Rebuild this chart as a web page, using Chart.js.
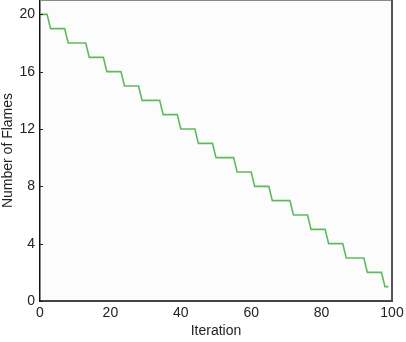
<!DOCTYPE html>
<html>
<head>
<meta charset="utf-8">
<script src="https://cdn.jsdelivr.net/npm/chart.js@4.4.1/dist/chart.umd.min.js"></script>
<style>
html,body{margin:0;padding:0;background:#fff}
#wrap{width:406px;height:342px}
</style>
</head>
<body>
<div id="wrap"><canvas id="flameChart" width="406" height="342"></canvas></div>
<script>
// ===== DATA =====
const iterations = [
0,1,2,3,4,5,6,7,8,9,10,11,12,13,14,15,16,17,18,19,
20,21,22,23,24,25,26,27,28,29,30,31,32,33,34,35,36,37,38,39,
40,41,42,43,44,45,46,47,48,49,50,51,52,53,54,55,56,57,58,59,
60,61,62,63,64,65,66,67,68,69,70,71,72,73,74,75,76,77,78,79,
80,81,82,83,84,85,86,87,88,89,90,91,92,93,94,95,96,97,98,99
]
const flames = [
20,20,20,19,19,19,19,19,18,18,18,18,18,18,17,17,17,17,17,16,
16,16,16,16,15,15,15,15,15,14,14,14,14,14,14,13,13,13,13,13,
12,12,12,12,12,11,11,11,11,11,10,10,10,10,10,10,9,9,9,9,
9,8,8,8,8,8,7,7,7,7,7,7,6,6,6,6,6,5,5,5,
5,5,4,4,4,4,4,3,3,3,3,3,3,2,2,2,2,2,1,1
]
const xTicks = [0,20,40,60,80,100]
const yTicks = [0,4,8,12,16,20]

const font = {family:"'Liberation Sans', Arial, sans-serif", size:14}

// ===== FRAME + INNER TICKS =====
const framePlugin = {
id:"frame",
afterDraw(chart){
const ctx = chart.ctx
const a = chart.chartArea
const y = chart.scales.y
ctx.save()
// top border
ctx.strokeStyle = "#8a8a8a"
ctx.lineWidth = 1
ctx.beginPath()
ctx.moveTo(a.left, a.top + 0.5)
ctx.lineTo(a.right, a.top + 0.5)
ctx.stroke()
// right border
ctx.strokeStyle = "#555"
ctx.lineWidth = 2
ctx.beginPath()
ctx.moveTo(a.right, a.top)
ctx.lineTo(a.right, a.bottom)
ctx.stroke()
// inner y ticks
ctx.strokeStyle = "#222"
ctx.lineWidth = 1
yTicks.forEach(v => {
const py = Math.round(y.getPixelForValue(v)) + 0.5
ctx.beginPath()
ctx.moveTo(a.left, py)
ctx.lineTo(a.left + 3, py)
ctx.stroke()
})
ctx.restore()
}
}

const bgPlugin = {
id:"plotBg",
beforeDraw(chart){
const a = chart.chartArea
chart.ctx.save()
chart.ctx.fillStyle = "#fcfcfc"
chart.ctx.fillRect(a.left, a.top, a.right - a.left, a.bottom - a.top)
chart.ctx.restore()
}
}

// ===== CHART =====
new Chart(document.getElementById("flameChart"),{
type:"line",
data:{
datasets:[{
data: iterations.map((it,i) => ({x:it, y:flames[i]})),
borderColor:"#5dbb5d",
borderWidth:1.6,
pointRadius:0,
tension:0,
fill:false
}]
},
options:{
responsive:false,
animation:false,
layout:{padding:{top:0,right:14,left:0,bottom:0}},
plugins:{legend:{display:false},tooltip:{enabled:false}},
scales:{
x:{
type:"linear",
min:0,
max:100,
afterBuildTicks(s){ s.ticks = xTicks.map(v => ({value:v})) },
afterFit(s){ s.height = 41; s.paddingLeft = 0; s.paddingRight = 0 },
grid:{display:false,drawTicks:false},
border:{display:true,color:"#444",width:2},
ticks:{font:font,color:"#222",padding:4,maxRotation:0},
title:{display:true,text:"Iteration",font:font,color:"#222",padding:{top:0,bottom:2}}
},
y:{
type:"linear",
min:0,
max:21,
afterBuildTicks(s){ s.ticks = yTicks.map(v => ({value:v})) },
afterFit(s){ s.width = 40; s.paddingTop = 0; s.paddingBottom = 0 },
grid:{display:false,drawTicks:false},
border:{display:true,color:"#111",width:1.5},
ticks:{font:font,color:"#222",padding:5},
title:{display:true,text:"Number of Flames",font:font,color:"#222",padding:0}
}
}
},
plugins:[bgPlugin,framePlugin]
})
</script>
</body>
</html>
